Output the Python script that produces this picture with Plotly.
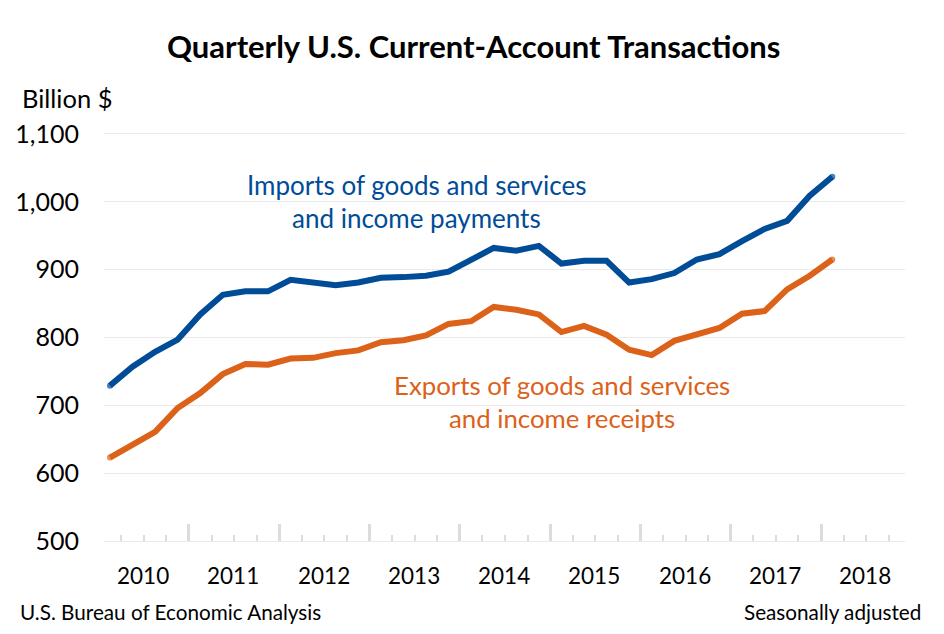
import plotly.graph_objects as go

# Trimestres, du 1er trim. 2010 au 1er trim. 2018
quarters = [y + (q - 0.5) / 4 for y in range(2010, 2018) for q in range(1, 5)] + [2018.125]

imports_vals = [729, 757, 779, 797, 834, 863, 868, 868, 885, 881, 877, 881, 888, 889, 891, 897,
                915, 932, 928, 935, 909, 913, 913, 881, 886, 895, 915, 923, 942, 960, 972, 1009, 1037]
exports_vals = [623, 643, 661, 696, 718, 746, 761, 760, 769, 770, 777, 781, 793, 796, 803, 820,
                824, 845, 841, 834, 808, 817, 804, 782, 774, 795, 805, 814, 835, 839, 871, 891, 915]

years = list(range(2010, 2019))
year_ticks = list(range(2011, 2019))
quarter_ticks = [y + f for y in range(2010, 2019) for f in (0.25, 0.5, 0.75)]

BLUE = "#004C97"
ORANGE = "#DC6119"
GRID = "#E9E9E9"
TICK = "#DCDCDC"
FONT = "Lato"

W, H = 944, 634
LEFT, RIGHT, TOP, BOTTOM = 104, 39, 131.5, 92.5

fig = go.Figure()
for name, vals, color in [("Imports", imports_vals, BLUE), ("Exports", exports_vals, ORANGE)]:
    # petits ronds aux extrémités pour imiter les bouts arrondis
    caps = [6] + [0] * (len(vals) - 2) + [6]
    fig.add_trace(go.Scatter(x=quarters, y=vals, name=name, mode="lines+markers",
                             line=dict(color=color, width=6),
                             marker=dict(color=color, size=caps, line=dict(width=0))))

fig.update_xaxes(range=[2010.059, 2018.93], showgrid=False, zeroline=False,
                 showline=True, linecolor=GRID, linewidth=1,
                 tickmode="array", tickvals=year_ticks, showticklabels=False,
                 ticks="inside", ticklen=17, tickwidth=3, tickcolor=TICK,
                 minor=dict(tickmode="array", tickvals=quarter_ticks, ticks="inside",
                            ticklen=6, tickwidth=2, tickcolor=TICK, showgrid=False))
# haut de l'axe un peu au-delà de 1100, sinon plotly retire la dernière ligne de grille
fig.update_yaxes(range=[500, 1102.94], tickvals=[500, 600, 700, 800, 900, 1000, 1100], tickformat=",",
                 showgrid=True, gridcolor=GRID, gridwidth=1, zeroline=False, showline=False,
                 ticks="", ticklabelstandoff=24,
                 tickfont=dict(family=FONT, size=25, color="#000000"))

# étiquettes des années, centrées sur chaque année
for y in years:
    fig.add_annotation(x=y + 0.49, y=0, xref="x", yref="paper", yshift=-49.5, text=str(y),
                       showarrow=False, font=dict(family=FONT, size=22.5, color="#000000"))

notes = [
    dict(x=473, y=45.5, text="<b>Quarterly U.S. Current-Account Transactions</b>", size=31, color="#000000", xanchor="center"),
    dict(x=20, y=97, text="Billion $", size=25.5, color="#000000", xanchor="left"),
    dict(x=18, y=612.5, text="U.S. Bureau of Economic Analysis", size=20.7, color="#000000", xanchor="left"),
    dict(x=923, y=612.5, text="Seasonally adjusted", size=20.7, color="#000000", xanchor="right"),
    dict(x=416, y=185, text="Imports of goods and services", size=26, color=BLUE, xanchor="center"),
    dict(x=416, y=218, text="and income payments", size=26, color=BLUE, xanchor="center"),
    dict(x=562, y=385, text="Exports of goods and services", size=25.8, color=ORANGE, xanchor="center"),
    dict(x=562, y=418, text="and income receipts", size=25.8, color=ORANGE, xanchor="center"),
]
plot_w = W - LEFT - RIGHT
plot_h = H - TOP - BOTTOM
for n in notes:
    # positions données en pixels de la page, converties en coordonnées "paper"
    fig.add_annotation(x=(n["x"] - LEFT) / plot_w, y=1 - (n["y"] - TOP) / plot_h,
                       xref="paper", yref="paper", showarrow=False,
                       text=n["text"], xanchor=n["xanchor"], yanchor="middle",
                       font=dict(family=FONT, size=n["size"], color=n["color"]))

fig.update_layout(width=W, height=H, showlegend=False, plot_bgcolor="white", paper_bgcolor="white",
                  margin=dict(l=LEFT, r=RIGHT, t=TOP, b=BOTTOM))

fig.write_html("out.html", config={"displayModeBar": False},
               post_script="document.body.style.margin='0';document.documentElement.style.overflow='hidden';")
